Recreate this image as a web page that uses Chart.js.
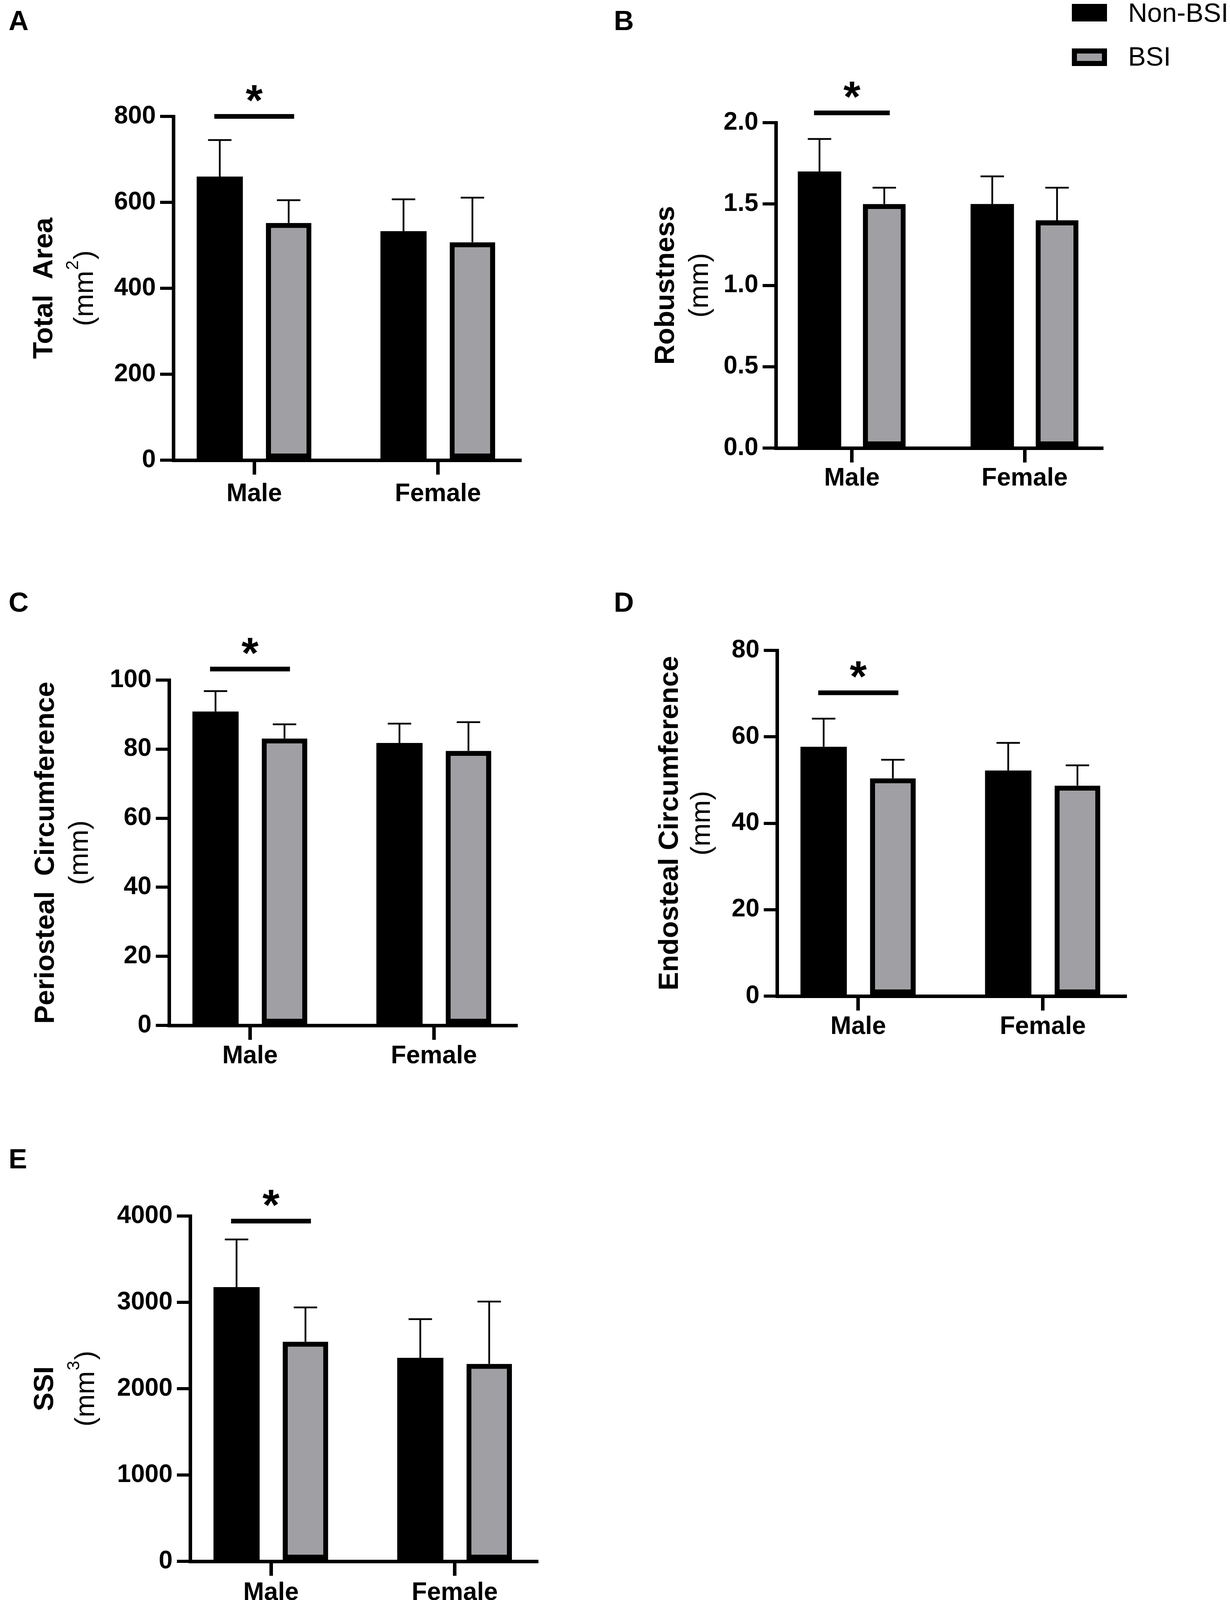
<!DOCTYPE html>
<html>
<head>
<meta charset="utf-8">
<title>Bone geometry by sex and BSI status</title>
<script src="https://cdn.jsdelivr.net/npm/chart.js@4.4.1/dist/chart.umd.min.js"></script>
<style>
  html, body { margin: 0; padding: 0; background: #fff; }
  #page { position: relative; width: 3150px; height: 4114px; overflow: hidden;
          font-family: "Liberation Sans", Arial, sans-serif; color: #000; }
  .panel { position: absolute; }
  .letter { position: absolute; font-weight: bold; font-size: 71px; line-height: 71px; }
  .lg-box { position: absolute; width: 90px; height: 45px; box-sizing: border-box; }
  .lg-text { position: absolute; font-size: 68px; line-height: 68px; white-space: nowrap; }
</style>
</head>
<body>
<div id="page">
  <div class="letter" style="left:22px;top:17px">A</div>
  <div class="letter" style="left:1572px;top:17px">B</div>
  <div class="letter" style="left:22px;top:1506px">C</div>
  <div class="letter" style="left:1572px;top:1506px">D</div>
  <div class="letter" style="left:22px;top:2931px">E</div>

  <div class="lg-box" style="left:2745px;top:10px;background:#000"></div>
  <div class="lg-text" style="left:2889px;top:-2px">Non-BSI</div>
  <div class="lg-box" style="left:2745px;top:124px;background:#a0a0a4;border:13px solid #000"></div>
  <div class="lg-text" style="left:2889px;top:110px">BSI</div>

  <canvas id="chartA" class="panel"></canvas>
  <canvas id="chartB" class="panel"></canvas>
  <canvas id="chartC" class="panel"></canvas>
  <canvas id="chartD" class="panel"></canvas>
  <canvas id="chartE" class="panel"></canvas>
</div>

<script>
// values (mean, SD shown as upward error bar)
const categories = ['Male', 'Female'];

const areaNon = [660, 533];      const areaNonSd = [85, 74];
const areaBsi = [552, 507];      const areaBsiSd = [53, 104];

const robustNon = [1.70, 1.50];  const robustNonSd = [0.20, 0.17];
const robustBsi = [1.50, 1.40];  const robustBsiSd = [0.10, 0.20];

const perioNon = [90.9, 81.8];   const perioNonSd = [5.9, 5.6];
const perioBsi = [83.1, 79.5];   const perioBsiSd = [4.1, 8.3];

const endoNon = [57.7, 52.2];    const endoNonSd = [6.5, 6.4];
const endoBsi = [50.4, 48.7];    const endoBsiSd = [4.3, 4.7];

const ssiNon = [3176, 2357];     const ssiNonSd = [552, 448];
const ssiBsi = [2544, 2287];     const ssiBsiSd = [397, 722];

// y axis ranges / tick steps
const yMax  = [800, 2.0, 100, 80, 4000];
const yStep = [200, 0.5, 20, 20, 1000];
// significance bar (Male, Non-BSI vs BSI) level per panel
const sigLevel = [800, 2.06, 103.2, 70.2, 3941];

const FONT = '"Liberation Sans", Arial, sans-serif';

// error bars, significance bar + star, two-line y title
const panelDecor = {
  id: 'panelDecor',
  afterDatasetsDraw(chart, args, o) {
    const ctx = chart.ctx, y = chart.scales.y, area = chart.chartArea;
    ctx.save();
    ctx.strokeStyle = '#000';
    ctx.fillStyle = '#000';

    o.sd.forEach((sds, d) => {
      const vals = chart.data.datasets[d].data;
      chart.getDatasetMeta(d).data.forEach((bar, i) => {
        const top = y.getPixelForValue(vals[i].y + sds[i]);
        ctx.lineWidth = 4.5;
        ctx.beginPath();
        ctx.moveTo(bar.x, bar.y);
        ctx.lineTo(bar.x, top);
        ctx.moveTo(bar.x - 30, top);
        ctx.lineTo(bar.x + 30, top);
        ctx.stroke();
      });
    });

    const b0 = chart.getDatasetMeta(0).data[0];
    const b1 = chart.getDatasetMeta(1).data[0];
    const sy = y.getPixelForValue(o.sig);
    ctx.lineWidth = 12;
    ctx.beginPath();
    ctx.moveTo(b0.x - 14, sy);
    ctx.lineTo(b1.x + 14, sy);
    ctx.stroke();

    ctx.font = 'bold 112px ' + FONT;
    ctx.textAlign = 'center';
    ctx.textBaseline = 'alphabetic';
    const m = ctx.measureText('*');
    const cy = sy - 59;
    ctx.fillText('*', (b0.x + b1.x) / 2, cy + (m.actualBoundingBoxAscent - m.actualBoundingBoxDescent) / 2);

    // rotated axis title
    const midY = (area.top + area.bottom) / 2;
    o.title.forEach(line => {
      ctx.save();
      ctx.translate(line.x, midY);
      ctx.rotate(-Math.PI / 2);
      ctx.textAlign = 'left';
      const main = (line.bold ? 'bold ' : '') + '71px ' + FONT;
      const sup = (line.bold ? 'bold ' : '') + '44px ' + FONT;
      let total = 0;
      line.parts.forEach(p => { ctx.font = p.sup ? sup : main; total += ctx.measureText(p.t).width + (p.sup ? 4 : 0); });
      let x = -total / 2;
      line.parts.forEach(p => {
        ctx.font = p.sup ? sup : main;
        ctx.fillText(p.t, x + (p.sup ? 2 : 0), p.sup ? -38 : 0);
        x += ctx.measureText(p.t).width + (p.sup ? 4 : 0);
      });
      ctx.restore();
    });
    ctx.restore();
  }
};

const panels = [
  { id: 'A', left: 0, top: 0, w: 1575, h: 1340, axisX: 444, plotTop: 298, plotBottom: 1178, plotRight: 1331,
    non: areaNon, nonSd: areaNonSd, bsi: areaBsi, bsiSd: areaBsiSd, dec: 0, lblPad: 12,
    title: [{ x: 134, bold: true, parts: [{ t: 'Total  Area' }] },
            { x: 238, bold: false, parts: [{ t: '(mm' }, { t: '2', sup: true }, { t: ')' }] }] },
  { id: 'B', left: 1575, top: 0, w: 1575, h: 1340, axisX: 1987, plotTop: 314, plotBottom: 1147, plotRight: 2821,
    non: robustNon, nonSd: robustNonSd, bsi: robustBsi, bsiSd: robustBsiSd, dec: 1, lblPad: 3,
    title: [{ x: 1726, bold: true, parts: [{ t: 'Robustness' }] },
            { x: 1813, bold: false, parts: [{ t: '(mm)' }] }] },
  { id: 'C', left: 0, top: 1380, w: 1575, h: 1370, axisX: 433, plotTop: 1741, plotBottom: 2625, plotRight: 1321,
    non: perioNon, nonSd: perioNonSd, bsi: perioBsi, bsiSd: perioBsiSd, dec: 0, lblPad: 4,
    title: [{ x: 138, bold: true, parts: [{ t: 'Periosteal  Circumference' }] },
            { x: 225, bold: false, parts: [{ t: '(mm)' }] }] },
  { id: 'D', left: 1575, top: 1380, w: 1575, h: 1370, axisX: 1990, plotTop: 1665, plotBottom: 2550, plotRight: 2881,
    non: endoNon, nonSd: endoNonSd, bsi: endoBsi, bsiSd: endoBsiSd, dec: 0, lblPad: 4,
    title: [{ x: 1736, bold: true, parts: [{ t: 'Endosteal Circumference' }] },
            { x: 1818, bold: false, parts: [{ t: '(mm)' }] }] },
  { id: 'E', left: 0, top: 2790, w: 1575, h: 1324, axisX: 487, plotTop: 3113, plotBottom: 3997, plotRight: 1374,
    non: ssiNon, nonSd: ssiNonSd, bsi: ssiBsi, bsiSd: ssiBsiSd, dec: 0, lblPad: 6,
    title: [{ x: 136, bold: true, parts: [{ t: 'SSI' }] },
            { x: 241, bold: false, parts: [{ t: '(mm' }, { t: '3', sup: true }, { t: ')' }] }] }
];

const X_AXIS_H = 110;

panels.forEach((p, k) => {
  const el = document.getElementById('chart' + p.id);
  el.width = p.w; el.height = p.h;
  el.style.left = p.left + 'px'; el.style.top = p.top + 'px';
  el.style.width = p.w + 'px'; el.style.height = p.h + 'px';

  const tickFont = { family: FONT, size: 64, weight: 'bold' };
  new Chart(el, {
    type: 'bar',
    data: {
      datasets: [
        { label: 'Non-BSI', data: p.non.map((v, i) => ({ x: i, y: v })),
          backgroundColor: '#000', borderWidth: 0, barPercentage: 0.67, categoryPercentage: 0.75 },
        { label: 'BSI', data: p.bsi.map((v, i) => ({ x: i, y: v })),
          backgroundColor: '#a0a0a4', borderColor: '#000', borderWidth: 13, borderSkipped: false,
          barPercentage: 0.66, categoryPercentage: 0.75 }
      ]
    },
    options: {
      responsive: false,
      animation: false,
      devicePixelRatio: 1,
      layout: { padding: {
        top: p.plotTop - p.top,
        bottom: p.h - (p.plotBottom - p.top) - X_AXIS_H,
        left: 0,
        right: p.left + p.w - p.plotRight
      } },
      plugins: {
        legend: { display: false },
        tooltip: { enabled: false },
        panelDecor: {
          sd: [p.nonSd, p.bsiSd],
          sig: sigLevel[k],
          title: p.title.map(t => Object.assign({}, t, { x: t.x - p.left }))
        }
      },
      scales: {
        x: {
          type: 'linear', min: -0.44, max: 1.445, offset: false,
          afterBuildTicks: a => { a.ticks = categories.map((c, i) => ({ value: i })); },
          afterFit: s => { s.height = X_AXIS_H; },
          grid: { display: true, offset: false, drawOnChartArea: false, drawTicks: true,
                  tickLength: 37, lineWidth: 9, color: '#000' },
          border: { display: true, width: 9, color: '#000' },
          ticks: { callback: (v, i) => categories[i], font: tickFont, color: '#000',
                   padding: p.lblPad, maxRotation: 0, autoSkip: false }
        },
        y: {
          min: 0, max: yMax[k],
          afterFit: s => { s.width = p.axisX - p.left; },
          grid: { display: true, drawOnChartArea: false, drawTicks: true,
                  tickLength: 34, lineWidth: 8, color: '#000' },
          border: { display: true, width: 9, color: '#000' },
          ticks: { stepSize: yStep[k], font: tickFont, color: '#000', padding: 11,
                   callback: v => v.toFixed(p.dec) }
        }
      }
    },
    plugins: [panelDecor]
  });
});
</script>
</body>
</html>
